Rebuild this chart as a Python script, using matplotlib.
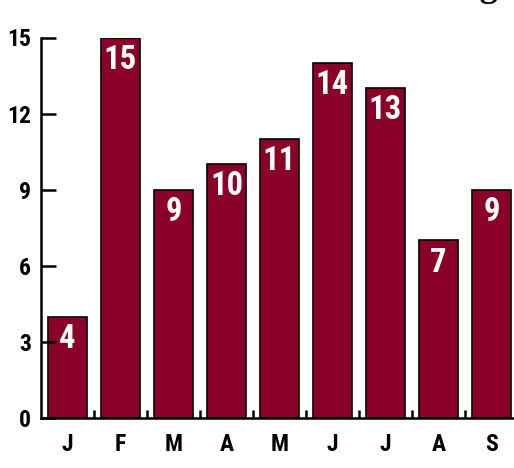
import matplotlib
matplotlib.use("Agg")
import matplotlib.pyplot as plt
from matplotlib import font_manager as fm
from matplotlib.ticker import FixedLocator

months = ["J", "F", "M", "A", "M", "J", "J", "A", "S"]
values = [4, 15, 9, 10, 11, 14, 13, 7, 9]
yticks = [0, 3, 6, 9, 12, 15]
title = "Total Reading"

# pick a condensed bold sans font if one is installed
cands = []
for f in fm.fontManager.ttflist:
    st = f.stretch
    name = f.name
    narrow = ("condensed" in str(st)) or ("Narrow" in name) or ("Condensed" in name)
    if narrow:
        cands.append(f)
choice = None
for pref in ["Liberation Sans Narrow", "Roboto Condensed", "Open Sans Condensed",
             "DejaVu Sans Condensed"]:
    for f in cands:
        if f.name == pref and str(f.weight) in ("bold", "700", "heavy", "800"):
            choice = f.fname
            break
    if choice:
        break
if choice is None:
    for f in cands:
        if str(f.weight) in ("bold", "700", "heavy", "800", "black", "900"):
            choice = f.fname
            break
if choice is None and cands:
    choice = cands[0].fname
if choice:
    fp_big = fm.FontProperties(fname=choice, size=23.5)
    fp_tick = fm.FontProperties(fname=choice, size=17)
else:
    fp_big = fm.FontProperties(family="DejaVu Sans", weight="bold", size=20)
    fp_tick = fm.FontProperties(family="DejaVu Sans", weight="bold", size=15)

W, H = 514, 468
fig = plt.figure(figsize=(W / 100, H / 100), dpi=100)
ax = fig.add_axes([41 / W, 50 / H, 477 / W, 380.5 / H])

bar_color = "#8b0029"
x = range(len(months))
ax.bar(x, values, width=0.74, color=bar_color, edgecolor="black", linewidth=1.2)

for xi, v in zip(x, values):
    ax.text(xi, v - 0.87, str(v), ha="center", va="center", color="white",
            fontproperties=fp_big)

ax.set_xlim(-0.5, 8.5)
ax.set_ylim(0, 15)
ax.set_yticks(yticks)
ax.set_xticks(list(x))
ax.set_xticklabels(months)
ax.xaxis.set_minor_locator(FixedLocator([i + 0.5 for i in range(len(months) - 1)]))

for s in ["top", "right"]:
    ax.spines[s].set_visible(False)
for s in ["left", "bottom"]:
    ax.spines[s].set_linewidth(1.8)

ax.tick_params(axis="y", direction="in", length=11, width=1.8, pad=7)
ax.tick_params(axis="x", which="major", length=0, pad=11)
ax.tick_params(axis="x", which="minor", direction="in", length=6, width=1.8)
for lab in ax.get_xticklabels() + ax.get_yticklabels():
    lab.set_fontproperties(fp_tick)

fig.text(498 / W, 1 + 4 / H, title, ha="right", va="baseline",
         fontsize=26, family="Liberation Serif", weight="bold")

fig.savefig("out.png", dpi=100)
